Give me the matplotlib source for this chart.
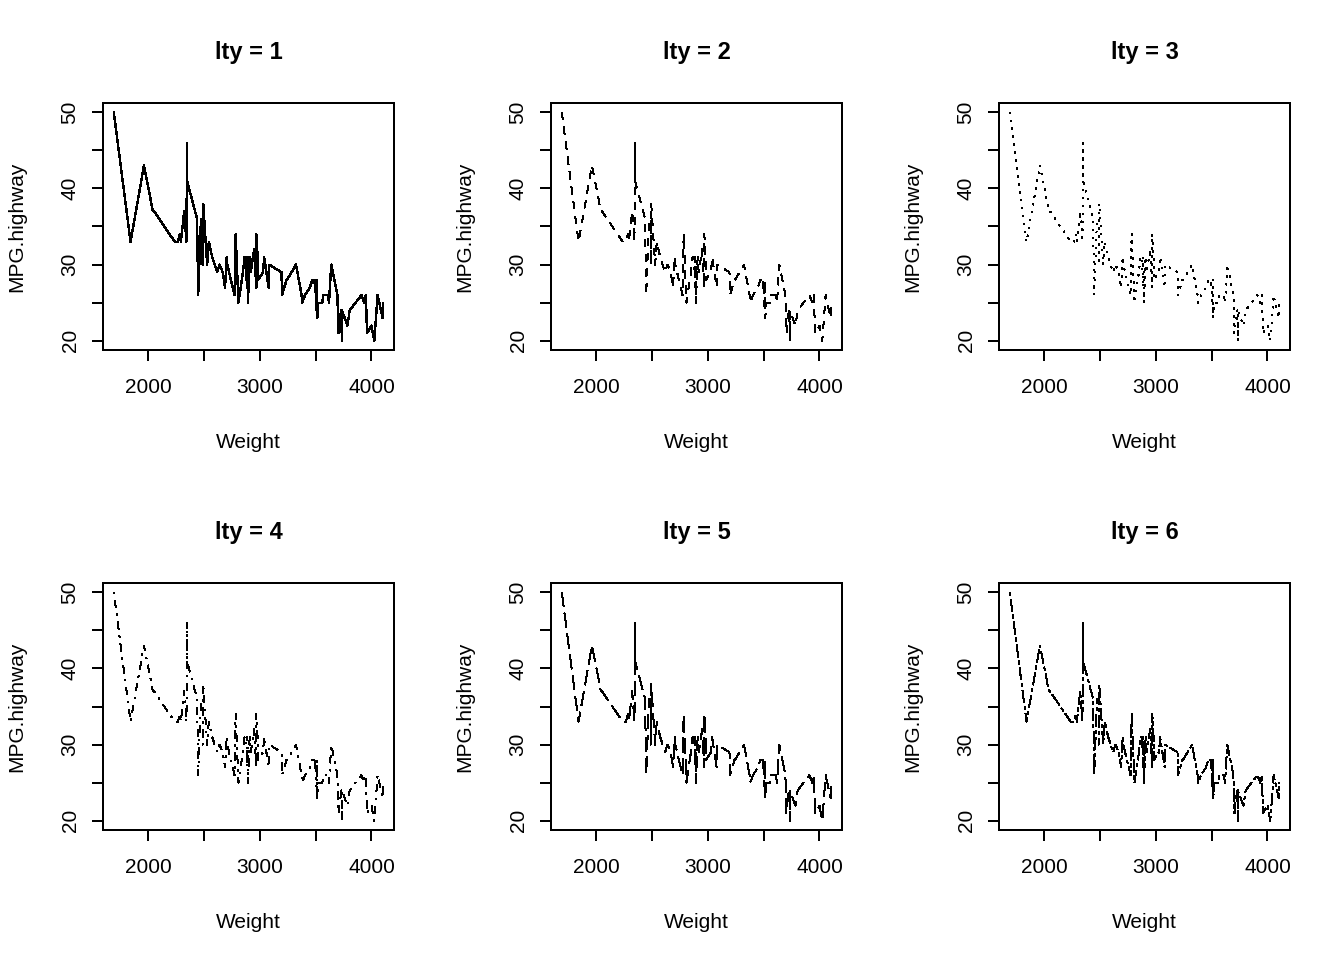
import matplotlib
matplotlib.use("Agg")
import matplotlib.pyplot as plt

plt.rcParams['font.family'] = ['Liberation Sans', 'DejaVu Sans']
plt.rcParams['lines.scale_dashes'] = False

# Cars93: Weight vs MPG.highway, ordered by weight
weight = [1695, 1845, 1965, 2045, 2055, 2240, 2270, 2285, 2295, 2295,
          2325, 2345, 2350, 2350, 2440, 2450, 2475, 2490, 2490, 2495,
          2530, 2545, 2575, 2620, 2640, 2670, 2690, 2705, 2710, 2775,
          2785, 2810, 2850, 2865, 2880, 2885, 2890, 2895, 2910, 2920,
          2950, 2970, 2970, 2985, 2985, 3030, 3040, 3050, 3080, 3085,
          3085, 3195, 3200, 3240, 3240, 3245, 3325, 3375, 3380, 3405,
          3450, 3470, 3470, 3490, 3495, 3495, 3510, 3515, 3515, 3525,
          3560, 3570, 3610, 3620, 3640, 3695, 3705, 3715, 3715, 3730,
          3735, 3735, 3785, 3805, 3910, 3935, 3950, 3960, 4000, 4025,
          4055, 4100, 4105]
mpg_highway = [50, 33, 43, 37, 37, 33, 33, 34, 33, 33,
               37, 33, 46, 41, 36, 26, 36, 36, 30, 38,
               30, 33, 31, 29, 30, 29, 27, 31, 30, 26,
               34, 25, 29, 31, 31, 27, 31, 25, 31, 29,
               32, 27, 34, 30, 28, 29, 31, 30, 27, 28,
               30, 29, 26, 28, 28, 28, 30, 26, 25, 26,
               27, 28, 28, 28, 27, 28, 24, 28, 23, 25,
               25, 26, 26, 25, 30, 26, 21, 23, 23, 24,
               20, 24, 22, 24, 26, 25, 26, 21, 22, 20,
               26, 23, 25]

lty_codes = [1, 2, 3, 4, 5, 6]
# R line type patterns (on/off counts of the 2 px line unit)
lty_patterns = {2: (4, 4), 3: (1, 3), 4: (1, 3, 4, 3),
                5: (7, 3), 6: (2, 2, 6, 2)}
unit = 1.44  # points

x_ticks = [2000, 2500, 3000, 3500, 4000]
x_labels = ['2000', '', '3000', '', '4000']
y_ticks = [20, 25, 30, 35, 40, 45, 50]
y_labels = ['20', '', '30', '', '40', '', '50']

W, H = 1344, 960
fig = plt.figure(figsize=(W / 100, H / 100), dpi=100)

col_left = [103, 551, 999]
row_top = [103, 583]
pw, ph = 291, 247
lw = 1.44

xr = max(weight) - min(weight)
yr = max(mpg_highway) - min(mpg_highway)

for i, lty in enumerate(lty_codes):
    r, c = divmod(i, 3)
    l, t = col_left[c], row_top[r]
    ax = fig.add_axes([l / W, 1 - (t + ph) / H, pw / W, ph / H])
    if lty == 1:
        ls = '-'
    else:
        ls = (0, tuple(v * unit for v in lty_patterns[lty]))
    ax.plot(weight, mpg_highway, color='black', lw=1.0,
            linestyle=ls, dash_capstyle='butt',
            solid_joinstyle='round', dash_joinstyle='round',
            antialiased=False)
    ax.set_xlim(min(weight) - 0.04 * xr, max(weight) + 0.04 * xr)
    ax.set_ylim(min(mpg_highway) - 0.04 * yr, max(mpg_highway) + 0.04 * yr)
    ax.set_xticks(x_ticks)
    ax.set_xticklabels(x_labels, fontsize=15)
    ax.set_yticks(y_ticks)
    ax.set_yticklabels(y_labels, fontsize=15, rotation=90, va='center')
    ax.tick_params(direction='out', length=7.9, width=lw, color='black')
    ax.tick_params(axis='x', pad=12)
    ax.tick_params(axis='y', pad=9)
    for sp in ax.spines.values():
        sp.set_linewidth(lw)
        sp.set_antialiased(False)

    cx = l + pw / 2
    cy = t + ph / 2
    fig.text(cx / W, 1 - (t - 43.5) / H, f'lty = {lty}', ha='center',
             va='baseline', fontsize=17, fontweight='bold')
    fig.text(cx / W, 1 - (t + 344.7) / H, 'Weight', ha='center',
             va='baseline', fontsize=15)
    fig.text((l - 77) / W, 1 - cy / H, 'MPG.highway', ha='right',
             va='center', rotation=90, fontsize=15)

fig.savefig('out.png', dpi=100)
